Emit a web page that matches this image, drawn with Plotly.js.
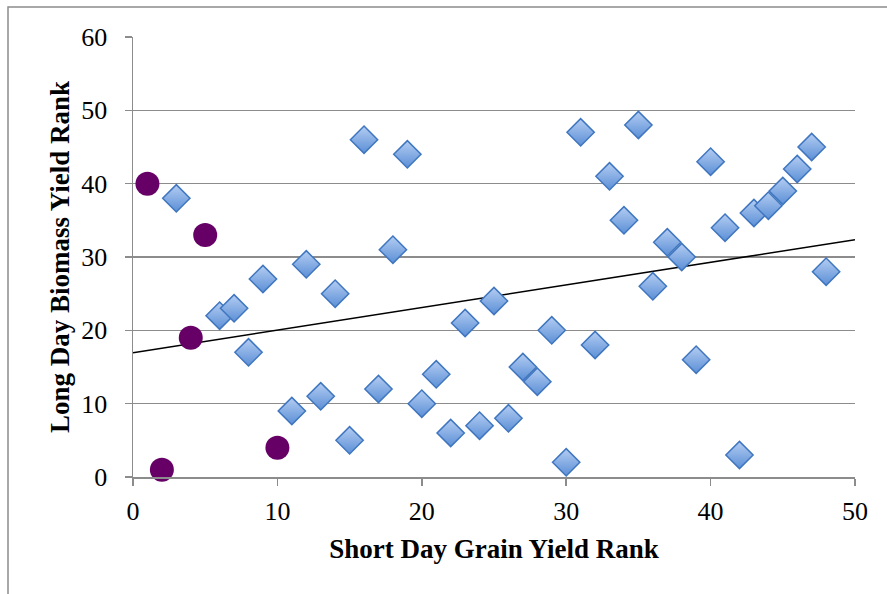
<!DOCTYPE html>
<html>
<head>
<meta charset="utf-8">
<script src="https://cdn.plot.ly/plotly-3.0.1.min.js"></script>
<style>html,body{margin:0;padding:0;background:#fff;}#chart{width:887px;height:594px;}</style>
</head>
<body>
<div id="chart"></div>
<script>
// Diamond series (blue)
const diamondX = [3,6,7,8,9,11,12,13,14,15,16,17,18,19,20,21,22,23,24,25,26,27,28,29,30,31,32,33,34,35,36,37,38,39,40,41,42,43,44,45,46,47,48];
const diamondY = [38,22,23,17,27,9,29,11,25,5,46,12,31,44,10,14,6,21,7,24,8,15,13,20,2,47,18,41,35,48,26,32,30,16,43,34,3,36,37,39,42,45,28];
// Circle series (purple)
const circleX = [1,2,4,5,10];
const circleY = [40,1,19,33,4];
const xTicks = [0,10,20,30,40,50];
const yTicks = [0,10,20,30,40,50,60];

// Linear trend line over all points
const allX = diamondX.concat(circleX), allY = diamondY.concat(circleY);
const n = allX.length;
const mx = allX.reduce((a,b)=>a+b,0)/n, my = allY.reduce((a,b)=>a+b,0)/n;
let sxy=0, sxx=0;
for (let i=0;i<n;i++){ sxy += (allX[i]-mx)*(allY[i]-my); sxx += (allX[i]-mx)**2; }
const slope = sxy/sxx, icpt = my - slope*mx;
const lineX = [xTicks[0], xTicks[xTicks.length-1]];
const lineY = lineX.map(x => icpt + slope*x);

const W=887,H=594, L=133, R=32, T=37, B=117;
const pw = W-L-R, ph = H-T-B;

const traces = [
  {x: lineX, y: lineY, mode:'lines', line:{color:'#000', width:1.5}, hoverinfo:'skip', cliponaxis:false},
  {x: diamondX, y: diamondY, mode:'markers', cliponaxis:false,
   marker:{symbol:'diamond', size:21, color:'#b4cdf2', line:{color:'#3f76bf', width:1.5},
           gradient:{type:'vertical', color:'#5b8fd6'}}},
  {x: circleX, y: circleY, mode:'markers', cliponaxis:false,
   marker:{symbol:'circle', size:24, color:'#660066', line:{width:0}}}
];

const tickFont = {family:'Liberation Serif, DejaVu Serif, serif', size:26, color:'#000'};
const titleFont = {family:'Liberation Serif, DejaVu Serif, serif', size:27, color:'#000', weight:'bold'};

const layout = {
  width:W, height:H, margin:{l:L, r:R, t:T, b:B},
  paper_bgcolor:'#fff', plot_bgcolor:'#fff', showlegend:false,
  xaxis:{range:[0,50], tickvals:xTicks, ticktext:xTicks.map(String), showgrid:false, zeroline:false,
    showline:true, linecolor:'#8c8c8c', linewidth:1.5, ticks:'outside', ticklen:7, tickcolor:'#8c8c8c', tickwidth:1.5,
    tickfont:tickFont, ticklabelstandoff:3,
    title:{text:'<b>Short Day Grain Yield Rank</b>', font:titleFont, standoff:14}},
  yaxis:{range:[0,60], tickvals:yTicks, ticktext:yTicks.map(String), showgrid:true, gridcolor:'#8c8c8c', gridwidth:1.5, zeroline:false,
    showline:true, linecolor:'#8c8c8c', linewidth:1.5, ticks:'outside', ticklen:7, tickcolor:'#8c8c8c', tickwidth:1.5,
    tickfont:tickFont, ticklabelstandoff:12,
    title:{text:'<b>Long Day Biomass Yield Rank</b>', font:titleFont, standoff:4}},
  shapes:[{type:'rect', xref:'paper', yref:'paper', x0:(8-L)/pw, x1:(W+20-L)/pw, y0:(H-B-(H+20))/ph, y1:(H-B-7)/ph,
    line:{color:'#8c8c8c', width:1.5}, fillcolor:'rgba(0,0,0,0)', layer:'below'}]
};
Plotly.newPlot('chart', traces, layout, {displayModeBar:false, staticPlot:true});
</script>
</body>
</html>
